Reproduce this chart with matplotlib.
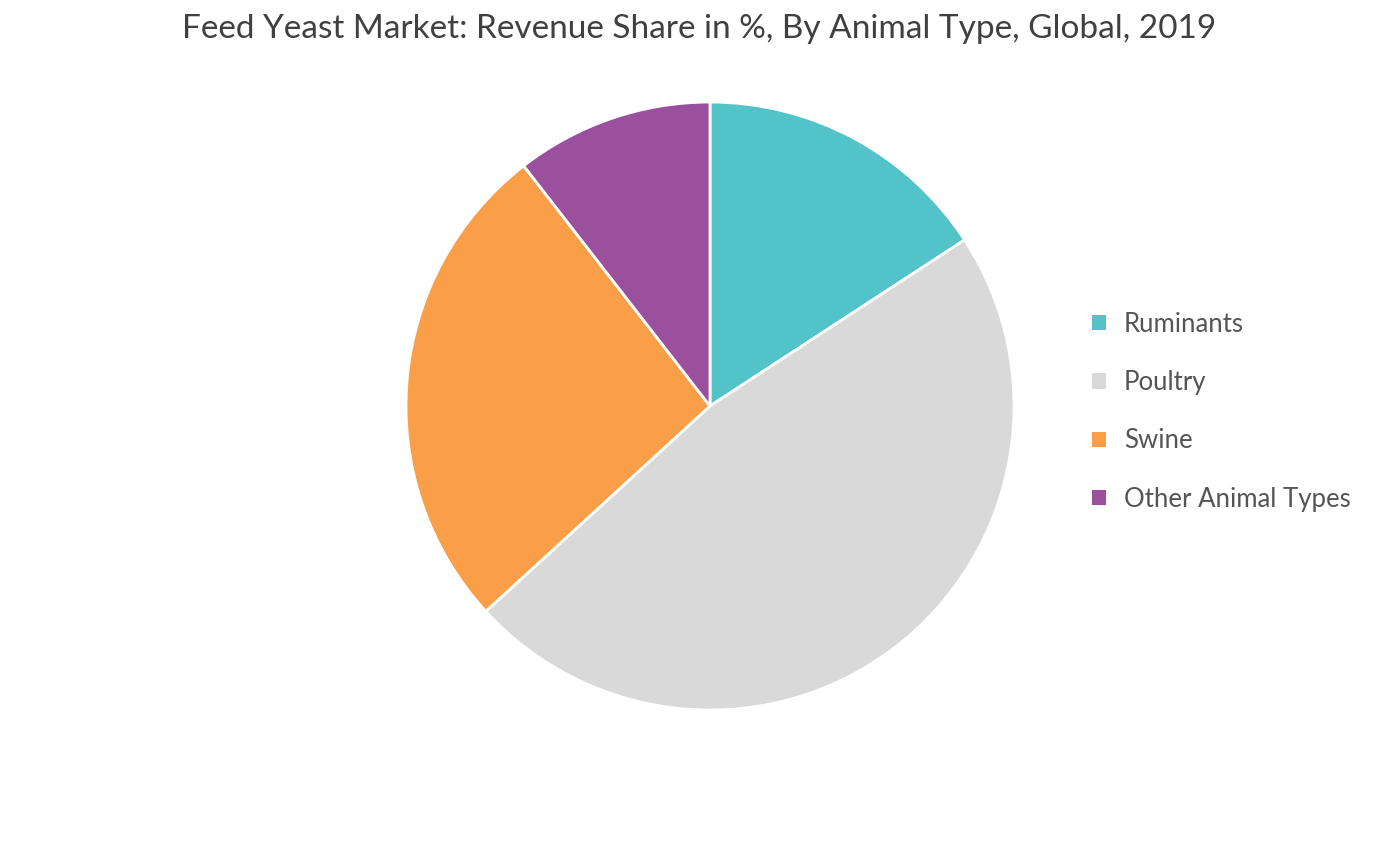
import matplotlib
matplotlib.use("Agg")
import matplotlib.pyplot as plt
from matplotlib.patches import Patch

labels = ["Ruminants", "Poultry", "Swine", "Other Animal Types"]
values = [15.8, 47.4, 26.3, 10.5]
colors = ["#52c3c9", "#d9d9d9", "#fa9f47", "#9b509e"]

plt.rcParams['font.family'] = ['Lato', 'DejaVu Sans']
fig = plt.figure(figsize=(13.99, 8.65), dpi=100)
ax = fig.add_axes([0.5075 - 0.2173, 0.5306 - 0.3515, 0.4346, 0.703])
ax.pie(values, colors=colors, startangle=90, counterclock=False,
       wedgeprops=dict(edgecolor="white", linewidth=2))
ax.set_xlim(-1.0, 1.0)
ax.set_ylim(-1.0, 1.0)
ax.set_aspect('equal')
fig.text(0.5, 0.967, "Feed Yeast Market: Revenue Share in %, By Animal Type, Global, 2019",
         ha="center", va="center", fontsize=24, color="#404040")
handles = [Patch(facecolor=c, label=l) for c, l in zip(colors, labels)]
fig.legend(handles=handles, loc="center left", bbox_to_anchor=(0.764, 0.524),
           frameon=False, fontsize=18.5, labelcolor="#555555", handlelength=0.55,
           handleheight=0.55, labelspacing=1.3, handletextpad=0.7)
fig.savefig("out.png", dpi=100)
